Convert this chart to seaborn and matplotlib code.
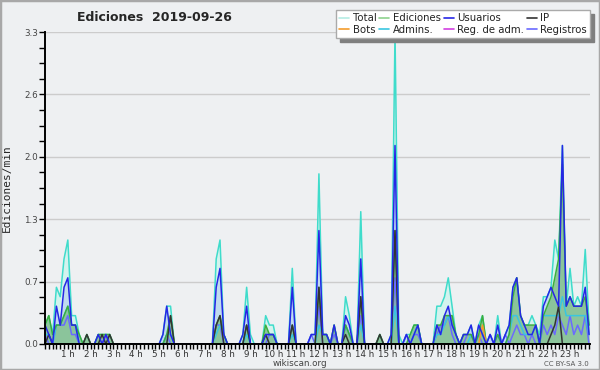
import numpy as np
import pandas as pd
import matplotlib
matplotlib.use("Agg")
import matplotlib.pyplot as plt
from matplotlib.lines import Line2D
from matplotlib.patches import Rectangle
import seaborn as sns

# ================================================================
# Edits counted per 10-minute bin (144 bins), chart shows edits/min.
total = [
    2, 3, 1, 6, 5, 9, 11, 3, 3, 1, 0, 1,
    0, 0, 1, 1, 1, 1, 0, 0, 0, 0, 0, 0,
    0, 0, 0, 0, 0, 0, 0, 1, 4, 4, 0, 0,
    0, 0, 0, 0, 0, 0, 0, 0, 0, 9, 11, 1,
    0, 0, 0, 0, 1, 6, 1, 0, 0, 0, 3, 2,
    2, 0, 0, 0, 0, 8, 0, 0, 0, 0, 1, 1,
    18, 1, 1, 0, 2, 0, 0, 5, 3, 0, 0, 14,
    0, 0, 0, 0, 1, 0, 0, 1, 33, 1, 0, 1,
    1, 2, 2, 0, 0, 0, 0, 4, 4, 5, 7, 4,
    1, 0, 1, 1, 2, 0, 2, 3, 0, 1, 0, 3,
    0, 1, 2, 6, 7, 3, 2, 2, 3, 2, 1, 5,
    5, 6, 11, 9, 21, 4, 8, 4, 5, 4, 10, 2,
]
ediciones = [
    2, 3, 1, 2, 2, 3, 4, 2, 2, 1, 0, 1,
    0, 0, 1, 1, 1, 1, 0, 0, 0, 0, 0, 0,
    0, 0, 0, 0, 0, 0, 0, 0, 1, 3, 0, 0,
    0, 0, 0, 0, 0, 0, 0, 0, 0, 2, 3, 1,
    0, 0, 0, 0, 0, 2, 0, 0, 0, 0, 2, 1,
    1, 0, 0, 0, 0, 2, 0, 0, 0, 0, 0, 0,
    6, 1, 1, 0, 2, 0, 0, 2, 1, 0, 0, 5,
    0, 0, 0, 0, 1, 0, 0, 0, 12, 0, 0, 0,
    1, 2, 2, 0, 0, 0, 0, 2, 2, 3, 3, 3,
    1, 0, 1, 1, 1, 0, 1, 3, 0, 0, 0, 1,
    0, 0, 1, 5, 7, 3, 2, 2, 2, 2, 0, 3,
    4, 5, 7, 9, 19, 4, 5, 4, 4, 4, 5, 2,
]
usuarios = [
    2, 1, 0, 4, 2, 6, 7, 2, 2, 0, 0, 0,
    0, 0, 1, 0, 1, 0, 0, 0, 0, 0, 0, 0,
    0, 0, 0, 0, 0, 0, 0, 1, 4, 1, 0, 0,
    0, 0, 0, 0, 0, 0, 0, 0, 0, 6, 8, 1,
    0, 0, 0, 0, 1, 4, 0, 0, 0, 0, 1, 1,
    1, 0, 0, 0, 0, 6, 0, 0, 0, 0, 1, 1,
    12, 1, 1, 0, 2, 0, 0, 3, 2, 0, 0, 9,
    0, 0, 0, 0, 0, 0, 0, 1, 21, 0, 0, 1,
    0, 1, 2, 0, 0, 0, 0, 2, 1, 3, 4, 2,
    1, 0, 1, 1, 2, 0, 2, 1, 0, 1, 0, 2,
    0, 1, 2, 6, 7, 3, 2, 1, 1, 2, 0, 4,
    5, 6, 5, 4, 21, 4, 5, 4, 4, 4, 6, 1,
]
ip = [
    0, 1, 0, 0, 0, 0, 0, 0, 0, 0, 0, 1,
    0, 0, 0, 1, 0, 1, 0, 0, 0, 0, 0, 0,
    0, 0, 0, 0, 0, 0, 0, 0, 0, 3, 0, 0,
    0, 0, 0, 0, 0, 0, 0, 0, 0, 2, 3, 0,
    0, 0, 0, 0, 0, 2, 0, 0, 0, 0, 1, 0,
    0, 0, 0, 0, 0, 2, 0, 0, 0, 0, 0, 0,
    6, 0, 0, 0, 0, 0, 0, 1, 0, 0, 0, 5,
    0, 0, 0, 0, 1, 0, 0, 0, 12, 0, 0, 0,
    0, 0, 0, 0, 0, 0, 0, 0, 0, 0, 0, 0,
    0, 0, 0, 0, 0, 0, 0, 0, 0, 0, 0, 0,
    0, 0, 0, 0, 0, 0, 0, 0, 0, 0, 0, 0,
    0, 1, 2, 4, 0, 0, 0, 0, 0, 0, 0, 0,
]
bots = [0] * 115 + [2] + [0] * 28
admins = [
    1, 1, 0, 2, 2, 3, 4, 2, 2, 0, 0, 0,
    0, 0, 0, 0, 0, 0, 0, 0, 0, 0, 0, 0,
    0, 0, 0, 0, 0, 0, 0, 0, 1, 1, 0, 0,
    0, 0, 0, 0, 0, 0, 0, 0, 0, 1, 2, 1,
    0, 0, 0, 0, 0, 1, 0, 0, 0, 0, 1, 1,
    1, 0, 0, 0, 0, 1, 0, 0, 0, 0, 0, 0,
    2, 1, 1, 0, 0, 0, 0, 2, 1, 0, 0, 2,
    0, 0, 0, 0, 0, 0, 0, 0, 4, 0, 0, 0,
    0, 1, 2, 0, 0, 0, 0, 1, 1, 2, 3, 2,
    1, 0, 0, 0, 1, 0, 1, 1, 0, 0, 0, 1,
    0, 0, 1, 3, 3, 2, 1, 1, 1, 2, 0, 3,
    3, 3, 3, 3, 5, 3, 3, 3, 3, 3, 3, 1,
]
reg_adm = [0] * 144
registros = [
    1, 0, 0, 2, 2, 2, 3, 1, 1, 0, 0, 0,
    0, 0, 0, 0, 1, 0, 0, 0, 0, 0, 0, 0,
    0, 0, 0, 0, 0, 0, 0, 0, 1, 0, 0, 0,
    0, 0, 0, 0, 0, 0, 0, 0, 0, 2, 2, 0,
    0, 0, 0, 0, 0, 2, 0, 0, 0, 0, 0, 1,
    1, 0, 0, 0, 0, 2, 0, 0, 0, 0, 1, 0,
    4, 0, 0, 0, 1, 0, 0, 2, 1, 0, 0, 3,
    0, 0, 0, 0, 0, 0, 0, 0, 7, 0, 0, 1,
    0, 1, 1, 0, 0, 0, 0, 1, 2, 2, 3, 1,
    0, 0, 0, 1, 1, 0, 1, 0, 0, 1, 0, 1,
    0, 1, 0, 1, 2, 1, 1, 0, 1, 0, 0, 2,
    1, 2, 1, 3, 2, 1, 3, 1, 2, 1, 3, 0,
]
hour_labels = [f"{h} h" for h in range(1, 24)]
y_major = [0.0, 0.66, 1.32, 1.98, 2.64, 3.3]
y_labels = ["0.0", "0.7", "1.3", "2.0", "2.6", "3.3"]
# ================================================================

series = {
    "Total": total, "Ediciones": ediciones, "Usuarios": usuarios, "IP": ip,
    "Bots": bots, "Admins.": admins, "Reg. de adm.": reg_adm, "Registros": registros,
}
colors = {
    "Total": "#3fdccb", "Ediciones": "#3cae3c", "Usuarios": "#2626e6", "IP": "#333333",
    "Bots": "#f39c2c", "Admins.": "#39c6e0", "Reg. de adm.": "#d23fe0", "Registros": "#6a6aff",
}
legend_colors = dict(colors, Total="#b5ece4", Ediciones="#8ed28e")

df = pd.DataFrame({k: np.array(v) / 10 for k, v in series.items()})
df["t"] = np.arange(len(df))
long = df.melt(id_vars="t", var_name="serie", value_name="val")

sns.set_style("ticks")
plt.rcParams["font.family"] = ["DejaVu Sans"]
BG = "#eef0f2"

fig = plt.figure(figsize=(6.0, 3.7), dpi=100, facecolor=BG)
ax = fig.add_axes([0.075, 0.0703, 0.908, 0.843])
ax.set_facecolor(BG)

# Fills.
ax.fill_between(df.t, df["Total"], color="#d3f3ee", lw=0, zorder=1)
ax.fill_between(df.t, df["Usuarios"], color="#bcd6ee", alpha=0.8, lw=0, zorder=1.1)
ax.fill_between(df.t, df["Ediciones"], color="#86c292", alpha=0.9, lw=0, zorder=1.2)

# Lines (drawing order: back to front).
order = ["Total", "Registros", "Reg. de adm.", "Admins.", "Ediciones", "Bots", "IP", "Usuarios"]
for i, name in enumerate(order):
    sub = long.loc[long.serie == name]
    if sub.val.max() == 0:
        continue
    sns.lineplot(ax=ax, data=sub, x="t", y="val", color=colors[name], lw=1.1,
                 legend=False, zorder=2 + i)

# Axes.
ax.set_xlim(0, 143.2)
ax.set_ylim(0, 3.3)
ax.set_xlabel("")
ax.set_ylabel("Ediciones/min", fontsize=8, family="DejaVu Sans Mono")
ax.yaxis.set_label_coords(-0.06, 0.5)
ax.set_xticks(np.arange(6, 144, 6))
ax.set_xticklabels(hour_labels, fontsize=6.3, color="#333333")
ax.set_xticks(np.arange(0, 144, 1), minor=True)
ax.set_yticks(y_major)
ax.set_yticklabels(y_labels, fontsize=6.3, color="#444444")
ax.set_yticks(np.arange(0, 3.31, 0.165), minor=True)
ax.tick_params(axis="x", which="both", length=3.5, width=1, color="black", pad=0.5)
ax.tick_params(axis="y", which="both", length=4, width=1, color="black", pad=1)
ax.grid(axis="y", which="major", color="#cccccc", lw=1)
ax.set_axisbelow(True)
for s in ["top", "right"]:
    ax.spines[s].set_visible(False)
for s in ["left", "bottom"]:
    ax.spines[s].set_linewidth(1.4)
    ax.spines[s].set_color("black")
    ax.spines[s].set_zorder(20)

# Legend with drop shadow.
handles = [Line2D([], [], color=legend_colors[k], lw=1.2) for k in series]
labels = list(series)
ncol_order = [0, 4, 1, 5, 2, 6, 3, 7]
leg = fig.legend([handles[i] for i in ncol_order], [labels[i] for i in ncol_order],
                 loc="upper right", bbox_to_anchor=(0.992, 0.988), ncol=4, fontsize=7.3,
                 handlelength=1.0, handletextpad=0.3, columnspacing=0.3, labelspacing=0.15,
                 borderpad=0.35, frameon=True, fancybox=False, edgecolor="#aaaaaa",
                 facecolor="white", framealpha=1,
                 shadow={"ox": 3, "oy": -3, "facecolor": "#7f7f7f", "edgecolor": "#7f7f7f", "alpha": 1})
for t in leg.get_texts():
    t.set_color("#222222")

# Titles and credits.
fig.text(0.257, 0.953, "Ediciones  2019-09-26", ha="center", va="center", fontsize=9, fontweight="bold")
fig.text(0.5, 0.017, "wikiscan.org", ha="center", va="center", fontsize=6.3, color="#444444")
fig.text(0.982, 0.017, "CC BY-SA 3.0", ha="right", va="center", fontsize=5, color="#555555")

# Outer border.
fig.patches.append(Rectangle((0, 0), 1, 1, transform=fig.transFigure, fill=False,
                             edgecolor="#a8a8a8", lw=2.5))

fig.savefig("out.png", dpi=100, facecolor=BG)
